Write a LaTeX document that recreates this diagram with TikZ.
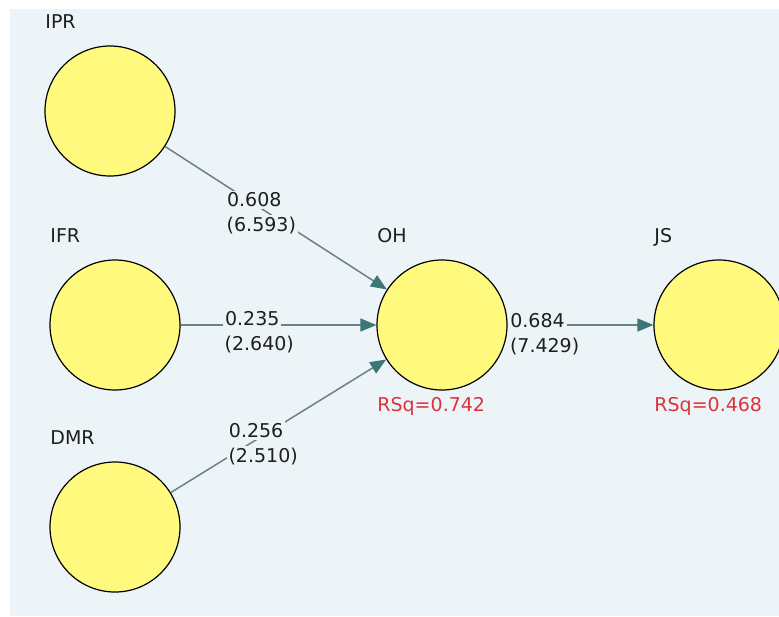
\documentclass[tikz,border=0pt]{standalone}
\usepackage{fontspec}
\setmainfont{DejaVu Sans}
\usepackage{tikz}
\usetikzlibrary{arrows.meta,positioning}
\definecolor{canvas}{RGB}{237,244,248}
\definecolor{lvyellow}{RGB}{255,250,125}
\definecolor{inkgray}{RGB}{30,30,30}
\definecolor{pathgray}{RGB}{105,130,132}
\definecolor{tipteal}{RGB}{60,118,118}
\definecolor{rsqred}{RGB}{220,50,60}
\tikzset{
  every node/.style={
    font=\fontsize{9.5}{12.5}\selectfont,
    text=inkgray
  },
  name label/.style={
    anchor=base west,
    inner sep=0pt,
    xshift=-32.5pt,
    yshift=8.25pt
  },
  rsq label/.style={
    anchor=base west,
    inner sep=0pt,
    xshift=-32.5pt,
    yshift=-10.5pt,
    text=rsqred
  },
  construct/.style={
    shape=circle,
    draw=black,
    line width=0.6pt,
    fill=lvyellow,
    minimum size=65pt,
    inner sep=0pt,
    label={[name label]above:#1}
  },
  rsq/.style={
    label={[rsq label]below:RSq=#1}
  },
  path arrow/.style={
    draw=pathgray,
    line width=0.75pt,
    -{Triangle[length=8pt,width=6.5pt,color=tipteal]}
  },
  estimate/.style={
    fill=canvas,
    inner xsep=1pt,
    inner ysep=1pt,
    anchor=base west
  },
  tvalue/.style={
    fill=canvas,
    inner xsep=1pt,
    inner ysep=1pt
  }
}
\begin{document}
\begin{tikzpicture}[x=0.5pt,y=-0.5pt]
    \useasboundingbox (0,0) rectangle (779,616);
    \fill [canvas] (10,9) rectangle (779,616);
    % constructs
    \node [construct=IPR] (ipr) at (110,111) {};
    \node [construct=IFR] (ifr) at (115,325) {};
    \node [construct=DMR] (dmr) at (115,527) {};
    \node [construct=OH, rsq=0.742] (oh) at (442,325) {};
    \node [construct=JS, rsq=0.468] (js) at (719,325) {};
    % paths with estimate and t value
    \draw [path arrow] (ipr) -- node [estimate, pos=0.267, yshift=-11.1pt] (e-ipr) {0.608} (oh);
    \draw [path arrow] (ifr) -- node [estimate, pos=0.213] (e-ifr) {0.235} (oh);
    \draw [path arrow] (dmr) -- node [estimate, pos=0.257, yshift=10.4pt] (e-dmr) {0.256} (oh);
    \draw [path arrow] (oh) -- node [estimate, pos=0, yshift=-1pt] (e-oh) {0.684} (js);
    \node [tvalue, below=12.5pt of e-ipr.base west, anchor=base west] (t-ipr) {(6.593)};
    \node [tvalue, below=12.5pt of e-ifr.base west, anchor=base west] (t-ifr) {(2.640)};
    \node [tvalue, below=12.5pt of e-dmr.base west, anchor=base west] (t-dmr) {(2.510)};
    \node [tvalue, below=12.5pt of e-oh.base west, anchor=base west] (t-oh) {(7.429)};
\end{tikzpicture}
\end{document}
